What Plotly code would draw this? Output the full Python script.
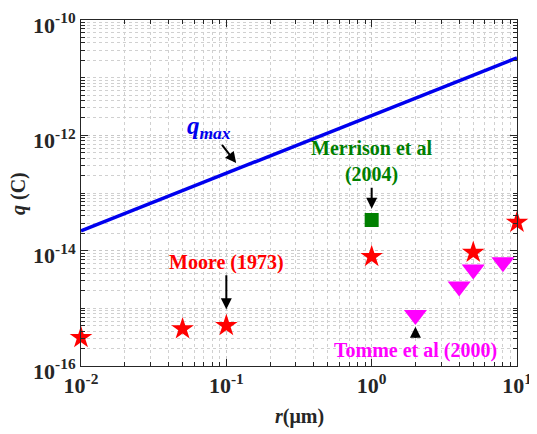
import numpy as np
import plotly.graph_objects as go

# data
qmax_r = [0.01, 10]
qmax_q = [2.2e-14, 2.2e-11]

moore_r = [0.01, 0.05, 0.1, 1, 5, 10]
moore_q = [3.1e-16, 4.4e-16, 5.0e-16, 7.9e-15, 9.3e-15, 3.1e-14]

merrison_r = [1]
merrison_q = [3.4e-14]

tomme_r = [2, 4, 5, 8]
tomme_q = [7.7e-16, 2.4e-15, 4.7e-15, 6.3e-15]

x_decades = [-2, -1, 0, 1]
y_decades = [-16, -14, -12, -10]

FONT = "Liberation Serif"
INK = "#262626"

def minor_vals(lo, hi):
    vals = []
    for d in range(lo, hi):
        for m in range(1, 10):
            if m > 1 or d % 2 != 0:
                vals.append(m * 10.0 ** d)
    return vals

def power_label(d):
    return "10<sup>%d</sup>" % d

def bold(size, color):
    return dict(family=FONT, size=size, color=color, weight="bold")

fig = go.Figure()
fig.add_trace(go.Scatter(x=qmax_r, y=qmax_q, mode="lines",
                         line=dict(color="#0000ee", width=3.5), showlegend=False))
fig.add_trace(go.Scatter(x=moore_r, y=moore_q, mode="markers", cliponaxis=False,
                         marker=dict(symbol="star", size=17, color="#ff0000"), showlegend=False))
fig.add_trace(go.Scatter(x=merrison_r, y=merrison_q, mode="markers", cliponaxis=False,
                         marker=dict(symbol="square", size=14, color="#008000"), showlegend=False))
fig.add_trace(go.Scatter(x=tomme_r, y=tomme_q, mode="markers", cliponaxis=False,
                         marker=dict(symbol="triangle-down", size=20, color="#ff00ff"), showlegend=False))

axis_common = dict(
    type="log", showline=True, linecolor=INK, linewidth=1, mirror="ticks",
    ticks="inside", ticklen=7, tickcolor=INK, automargin=False,
    ticklabeloverflow="allow",
    showgrid=True, gridcolor="#c8c8c8", griddash="dot", gridwidth=1,
    tickfont=bold(22, INK),
    zeroline=False,
)

fig.update_xaxes(
    range=[-2, 1],
    tickvals=[10.0 ** d for d in x_decades],
    ticktext=[power_label(d) for d in x_decades],
    minor=dict(tickvals=minor_vals(-2, 1), ticks="inside", ticklen=4, tickcolor=INK,
               showgrid=True, gridcolor="#d0d0d0", griddash="dot"),
    **axis_common,
)
fig.update_yaxes(
    range=[-16, -10],
    tickvals=[10.0 ** d for d in y_decades],
    ticktext=[power_label(d) for d in y_decades],
    ticklabelshift=5,
    minor=dict(tickvals=minor_vals(-16, -10), ticks="inside", ticklen=4, tickcolor=INK,
               showgrid=True, gridcolor="#d0d0d0", griddash="dot"),
    **axis_common,
)

ann = []

def pointer(x, y, text, color, ax, ay, size=20):
    return dict(x=np.log10(x), y=np.log10(y), ax=ax, ay=ay, text=text, showarrow=True,
                arrowhead=2, arrowsize=1.1, arrowwidth=2, arrowcolor="black", standoff=1,
                font=bold(size, color))

ann.append(pointer(0.118, 3.2e-13, "<i>q<sub>max</sub></i>", "#0000ee", -28, -36, size=25))
ann.append(pointer(1, 5.1e-14, "Merrison et al<br>(2004)", "#008000", 0, -48))
ann.append(pointer(0.1, 9.3e-16, "Moore (1973)", "#ff0000", 0, -48))
ann.append(pointer(2, 5.0e-16, "Tomme et al (2000)", "#ff00ff", 0, 25))

# axis titles
ann.append(dict(xref="paper", yref="paper", x=-0.1445, y=0.5, textangle=-90, showarrow=False,
                xanchor="center", yanchor="middle",
                text="<i>q</i> (C)", font=bold(20, INK)))
ann.append(dict(xref="paper", yref="paper", x=0.5, y=-0.147, showarrow=False,
                xanchor="center", yanchor="middle",
                text="<i>r</i>(μm)", font=bold(20, INK)))

# page body adds an 8px margin, so the figure is drawn 8px smaller
fig.update_layout(
    width=529, height=426,
    margin=dict(l=73, r=20, t=12, b=68),
    plot_bgcolor="white", paper_bgcolor="white",
    annotations=ann,
)

fig.write_html("out.html")
